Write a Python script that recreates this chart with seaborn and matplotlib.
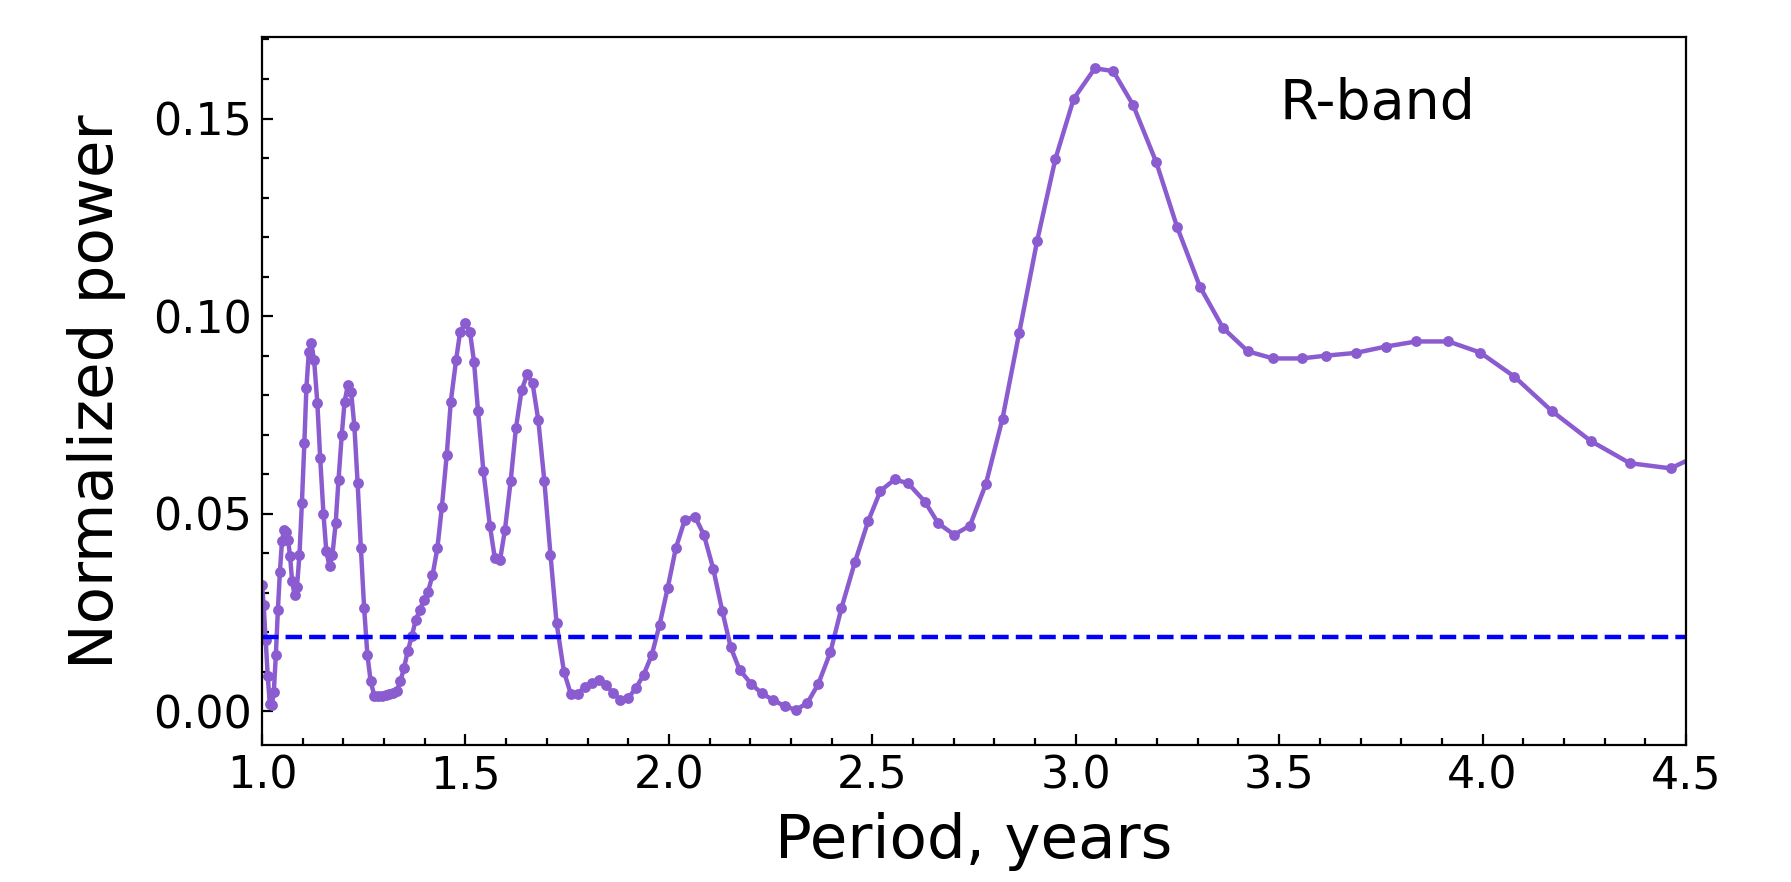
import numpy as np
import pandas as pd
import matplotlib
matplotlib.use('Agg')
import matplotlib.pyplot as plt
from matplotlib.ticker import MultipleLocator, AutoMinorLocator
import seaborn as sns

# periods (years) and normalized power
period = [
    1.000, 1.004, 1.009, 1.014, 1.019, 1.024, 1.029, 1.034, 1.039, 1.044,
    1.049, 1.054, 1.059, 1.064, 1.069, 1.074, 1.080, 1.086, 1.092, 1.098,
    1.104, 1.109, 1.115, 1.121, 1.128, 1.136, 1.143, 1.151, 1.158, 1.166,
    1.173, 1.181, 1.188, 1.196, 1.203, 1.211, 1.219, 1.227, 1.235, 1.243,
    1.251, 1.259, 1.267, 1.276, 1.286, 1.295, 1.304, 1.313, 1.322, 1.331,
    1.340, 1.349, 1.358, 1.368, 1.378, 1.388, 1.398, 1.408, 1.419, 1.431,
    1.442, 1.454, 1.464, 1.477, 1.487, 1.499, 1.511, 1.521, 1.531, 1.544,
    1.560, 1.572, 1.585, 1.597, 1.611, 1.624, 1.638, 1.652, 1.665, 1.679,
    1.694, 1.709, 1.724, 1.742, 1.759, 1.776, 1.793, 1.810, 1.828, 1.845,
    1.863, 1.881, 1.900, 1.919, 1.938, 1.958, 1.977, 1.997, 2.017, 2.039,
    2.064, 2.086, 2.109, 2.131, 2.152, 2.174, 2.203, 2.228, 2.256, 2.285,
    2.312, 2.340, 2.367, 2.397, 2.424, 2.457, 2.490, 2.520, 2.555, 2.588,
    2.629, 2.662, 2.701, 2.740, 2.779, 2.820, 2.861, 2.905, 2.950, 2.995,
    3.047, 3.092, 3.141, 3.198, 3.249, 3.305, 3.362, 3.423, 3.485, 3.555,
    3.614, 3.688, 3.762, 3.837, 3.916, 3.994, 4.078, 4.170, 4.266, 4.362,
    4.462, 4.565,
]
power = [
    0.0320, 0.0270, 0.0180, 0.0090, 0.0020, 0.0015, 0.0050, 0.0143, 0.0257, 0.0354,
    0.0430, 0.0459, 0.0455, 0.0434, 0.0392, 0.0329, 0.0295, 0.0316, 0.0396, 0.0527,
    0.0678, 0.0817, 0.0910, 0.0931, 0.0889, 0.0780, 0.0640, 0.0500, 0.0405, 0.0367,
    0.0396, 0.0476, 0.0586, 0.0700, 0.0784, 0.0826, 0.0809, 0.0721, 0.0577, 0.0413,
    0.0261, 0.0143, 0.0076, 0.0040, 0.0038, 0.0040, 0.0042, 0.0044, 0.0046, 0.0051,
    0.0076, 0.0110, 0.0152, 0.0190, 0.0232, 0.0257, 0.0282, 0.0303, 0.0344, 0.0413,
    0.0517, 0.0649, 0.0784, 0.0889, 0.0961, 0.0982, 0.0961, 0.0885, 0.0759, 0.0609,
    0.0470, 0.0389, 0.0383, 0.0459, 0.0582, 0.0716, 0.0813, 0.0853, 0.0830, 0.0737,
    0.0582, 0.0396, 0.0223, 0.0101, 0.0044, 0.0045, 0.0062, 0.0073, 0.0080, 0.0068,
    0.0046, 0.0030, 0.0034, 0.0059, 0.0093, 0.0143, 0.0219, 0.0312, 0.0413, 0.0484,
    0.0493, 0.0447, 0.0361, 0.0255, 0.0162, 0.0105, 0.0069, 0.0046, 0.0029, 0.0013,
    0.0004, 0.0021, 0.0069, 0.0150, 0.0261, 0.0377, 0.0482, 0.0558, 0.0587, 0.0577,
    0.0531, 0.0476, 0.0447, 0.0470, 0.0575, 0.0741, 0.0957, 0.1190, 0.1398, 0.1550,
    0.1627, 0.1620, 0.1534, 0.1389, 0.1226, 0.1075, 0.0970, 0.0911, 0.0893, 0.0893,
    0.0900, 0.0907, 0.0923, 0.0936, 0.0936, 0.0908, 0.0847, 0.0760, 0.0684, 0.0628,
    0.0615, 0.0665,
]
threshold = 0.0188

df = pd.DataFrame({'period': period, 'power': power})

sns.set_style('ticks')
plt.rcParams['font.family'] = ['DejaVu Sans']
plt.rcParams['text.color'] = 'black'
plt.rcParams['axes.labelcolor'] = 'black'
plt.rcParams['xtick.color'] = 'black'
plt.rcParams['ytick.color'] = 'black'
plt.rcParams['axes.edgecolor'] = 'black'

fig = plt.figure(figsize=(8.955, 4.41), dpi=200)
ax = fig.add_axes([0.1463, 0.1553, 0.7951, 0.8022])

line_color = '#8b5cd0'
sns.lineplot(data=df, x='period', y='power', ax=ax, color=line_color,
             marker='o', markersize=3.9, markeredgewidth=0, linewidth=1.6,
             sort=False, estimator=None)

# significance level
ax.axhline(threshold, color='blue', linestyle='--', linewidth=1.6)

ax.text(3.5, 0.15, 'R-band', fontsize=20, color='black')

ax.set_xlim(1.0, 4.5)
ax.set_ylim(-0.0085, 0.1705)
ax.xaxis.set_major_locator(MultipleLocator(0.5))
ax.yaxis.set_major_locator(MultipleLocator(0.05))
ax.xaxis.set_minor_locator(AutoMinorLocator(5))
ax.yaxis.set_minor_locator(AutoMinorLocator(5))
ax.tick_params(which='both', direction='in', labelsize=16, width=0.8,
               color='black', labelcolor='black')
ax.tick_params(which='major', length=4)
ax.tick_params(which='minor', length=2.6)

ax.set_xlabel('Period, years', fontsize=22, color='black', labelpad=5)
ax.set_ylabel('Normalized power', fontsize=22, color='black', labelpad=10)

for s in ax.spines.values():
    s.set_linewidth(0.8)
    s.set_color('black')

fig.savefig('out.png', dpi=200)
